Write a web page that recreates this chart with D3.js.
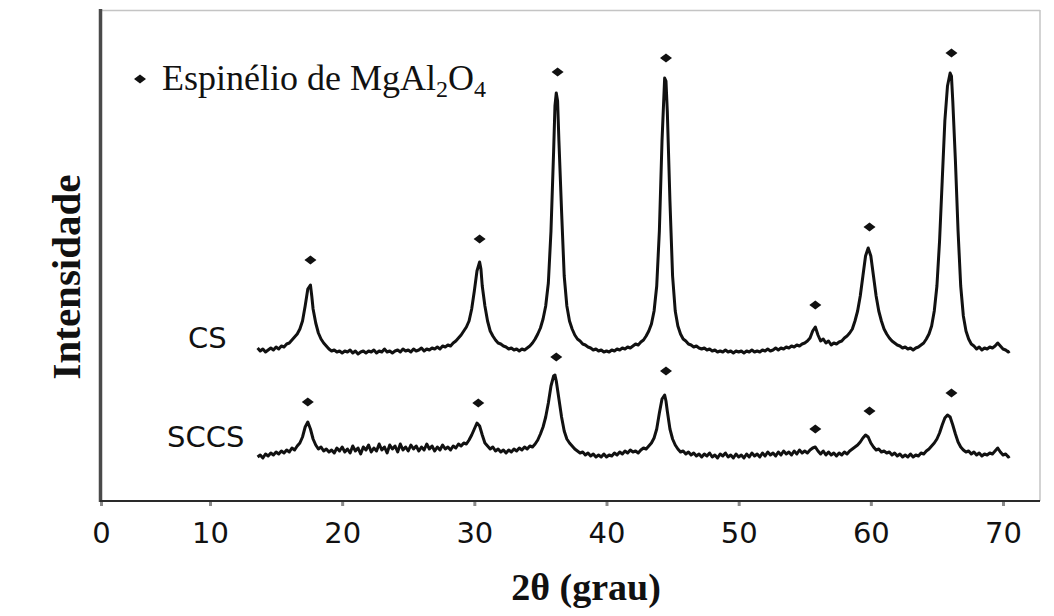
<!DOCTYPE html>
<html>
<head>
<meta charset="utf-8">
<script src="https://cdn.jsdelivr.net/npm/d3@7"></script>
<style>
  html, body { margin: 0; padding: 0; background: #fff; }
  svg { display: block; }
</style>
</head>
<body>
<div id="chart"></div>
<script>
// x ticks of the 2theta axis
var xTicks = [0, 10, 20, 30, 40, 50, 60, 70];

// series labels
var seriesNames = ["CS", "SCCS"];

// CS pattern, [2theta, intensity a.u.] as drawn (stacked above SCCS)
var csPattern = [
  [13.6,153],[13.8,150],[14.0,152],[14.2,149],[14.4,151],[14.6,153],[14.8,151],[15.0,154],[15.2,152],[15.4,155],
  [15.6,154],[15.8,157],[16.0,158],[16.2,161],[16.4,164],[16.6,167],[16.8,172],[17.0,180],[17.2,195],[17.4,212],
  [17.6,216],[17.7,205],[17.8,192],[18.0,178],[18.2,168],[18.4,162],[18.6,158],[18.8,155],[19.0,152],[19.2,150],
  [19.4,151],[19.6,149],[19.8,150],[20.0,148],[20.2,150],[20.4,149],[20.6,151],[20.8,148],[21.0,150],[21.2,147],
  [21.4,149],[21.6,150],[21.8,148],[22.0,150],[22.2,149],[22.4,151],[22.6,148],[22.8,150],[23.0,149],[23.2,152],
  [23.4,149],[23.6,150],[23.8,148],[24.0,150],[24.2,151],[24.4,149],[24.6,152],[24.8,150],[25.0,151],[25.2,149],
  [25.4,152],[25.6,150],[25.8,151],[26.0,153],[26.2,150],[26.4,152],[26.6,151],[26.8,153],[27.0,152],[27.2,154],
  [27.4,152],[27.6,155],[27.8,154],[28.0,156],[28.2,155],[28.4,158],[28.6,160],[28.8,163],[29.0,166],[29.2,170],
  [29.4,174],[29.6,180],[29.8,192],[30.0,210],[30.2,230],[30.4,239],[30.5,232],[30.6,215],[30.8,195],[31.0,180],
  [31.2,170],[31.4,165],[31.6,161],[31.8,158],[32.0,157],[32.2,155],[32.4,154],[32.6,152],[32.8,153],[33.0,151],
  [33.2,152],[33.4,150],[33.6,152],[33.8,151],[34.0,153],[34.2,155],[34.4,158],[34.6,162],[34.8,167],[35.0,173],
  [35.2,182],[35.4,195],[35.6,218],[35.8,270],[36.0,350],[36.1,395],[36.2,408],[36.3,400],[36.4,360],[36.6,290],
  [36.8,225],[37.0,195],[37.2,180],[37.4,172],[37.6,166],[37.8,162],[38.0,160],[38.2,157],[38.4,156],[38.6,154],
  [38.8,153],[39.0,151],[39.2,152],[39.4,150],[39.6,151],[39.8,149],[40.0,150],[40.2,149],[40.4,151],[40.6,150],
  [40.8,152],[41.0,151],[41.2,153],[41.4,152],[41.6,154],[41.8,153],[42.0,155],[42.2,157],[42.4,156],[42.6,159],
  [42.8,161],[43.0,165],[43.2,170],[43.4,177],[43.6,190],[43.8,215],[44.0,270],[44.2,360],[44.4,423],[44.5,420],
  [44.6,390],[44.8,300],[45.0,225],[45.2,190],[45.4,175],[45.6,167],[45.8,162],[46.0,160],[46.2,157],[46.4,156],
  [46.6,154],[46.8,155],[47.0,153],[47.2,152],[47.4,153],[47.6,151],[47.8,152],[48.0,150],[48.2,151],[48.4,149],
  [48.6,150],[48.8,149],[49.0,151],[49.2,149],[49.4,150],[49.6,148],[49.8,150],[50.0,149],[50.2,150],[50.4,148],
  [50.6,150],[50.8,149],[51.0,151],[51.2,149],[51.4,150],[51.6,149],[51.8,151],[52.0,150],[52.2,152],[52.4,150],
  [52.6,151],[52.8,153],[53.0,151],[53.2,153],[53.4,152],[53.6,154],[53.8,153],[54.0,155],[54.2,154],[54.4,156],
  [54.6,155],[54.8,157],[55.0,158],[55.2,160],[55.4,163],[55.6,170],[55.8,174],[56.0,166],[56.2,160],[56.4,162],
  [56.6,158],[56.8,160],[57.0,156],[57.2,158],[57.4,157],[57.6,159],[57.8,160],[58.0,163],[58.2,165],[58.4,168],
  [58.6,172],[58.8,180],[59.0,190],[59.2,205],[59.4,225],[59.6,245],[59.8,253],[60.0,245],[60.2,225],[60.4,205],
  [60.6,190],[60.8,180],[61.0,172],[61.2,167],[61.4,163],[61.6,160],[61.8,158],[62.0,156],[62.2,155],[62.4,153],
  [62.6,154],[62.8,152],[63.0,153],[63.2,151],[63.4,153],[63.6,154],[63.8,156],[64.0,158],[64.2,162],[64.4,167],
  [64.6,175],[64.8,190],[65.0,215],[65.2,260],[65.4,320],[65.6,380],[65.8,415],[66.0,428],[66.1,425],[66.2,400],
  [66.4,340],[66.6,270],[66.8,215],[67.0,185],[67.2,170],[67.4,162],[67.6,157],[67.8,155],[68.0,152],[68.2,154],
  [68.4,151],[68.6,153],[68.8,152],[69.0,154],[69.2,153],[69.4,155],[69.6,158],[69.8,155],[70.0,152],[70.2,151],
  [70.4,149],[70.5,150]
];

// SCCS pattern, [2theta, intensity a.u.]
var sccsPattern = [
  [13.6,44],[13.8,46],[14.0,43],[14.2,47],[14.4,45],[14.6,48],[14.8,46],[15.0,49],[15.2,47],[15.4,50],
  [15.6,48],[15.8,51],[16.0,49],[16.2,53],[16.4,51],[16.6,55],[16.8,58],[17.0,64],[17.2,74],[17.4,79],
  [17.6,72],[17.8,62],[18.0,56],[18.2,52],[18.4,54],[18.6,50],[18.8,52],[19.0,49],[19.2,51],[19.4,48],
  [19.6,53],[19.8,50],[20.0,54],[20.2,49],[20.4,52],[20.6,48],[20.8,55],[21.0,50],[21.2,53],[21.4,47],
  [21.6,54],[21.8,51],[22.0,56],[22.2,49],[22.4,53],[22.6,50],[22.8,57],[23.0,51],[23.2,54],[23.4,48],
  [23.6,56],[23.8,52],[24.0,55],[24.2,49],[24.4,57],[24.6,51],[24.8,54],[25.0,50],[25.2,56],[25.4,52],
  [25.6,55],[25.8,50],[26.0,54],[26.2,51],[26.4,57],[26.6,52],[26.8,55],[27.0,50],[27.2,54],[27.4,51],
  [27.6,56],[27.8,52],[28.0,54],[28.2,51],[28.4,55],[28.6,53],[28.8,57],[29.0,55],[29.2,58],[29.4,57],
  [29.6,61],[29.8,66],[30.0,72],[30.2,78],[30.4,75],[30.6,66],[30.8,58],[31.0,55],[31.2,52],[31.4,54],
  [31.6,50],[31.8,52],[32.0,49],[32.2,51],[32.4,48],[32.6,51],[32.8,49],[33.0,52],[33.2,50],[33.4,53],
  [33.6,51],[33.8,54],[34.0,52],[34.2,55],[34.4,54],[34.6,57],[34.8,61],[35.0,67],[35.2,74],[35.4,84],
  [35.6,98],[35.8,115],[36.0,125],[36.1,126],[36.2,120],[36.4,102],[36.6,84],[36.8,70],[37.0,62],[37.2,58],
  [37.4,55],[37.6,52],[37.8,50],[38.0,48],[38.2,49],[38.4,46],[38.6,48],[38.8,45],[39.0,47],[39.2,44],
  [39.4,46],[39.6,44],[39.8,47],[40.0,44],[40.2,46],[40.4,45],[40.6,48],[40.8,46],[41.0,49],[41.2,47],
  [41.4,50],[41.6,48],[41.8,51],[42.0,49],[42.2,50],[42.4,48],[42.6,51],[42.8,53],[43.0,52],[43.2,55],
  [43.4,58],[43.6,63],[43.8,72],[44.0,88],[44.2,102],[44.4,106],[44.5,100],[44.6,90],[44.8,72],[45.0,62],
  [45.2,56],[45.4,52],[45.6,49],[45.8,50],[46.0,47],[46.2,49],[46.4,46],[46.6,48],[46.8,45],[47.0,47],
  [47.2,44],[47.4,47],[47.6,45],[47.8,48],[48.0,44],[48.2,46],[48.4,43],[48.6,47],[48.8,45],[49.0,48],
  [49.2,44],[49.4,46],[49.6,43],[49.8,47],[50.0,44],[50.2,46],[50.4,43],[50.6,47],[50.8,44],[51.0,48],
  [51.2,45],[51.4,47],[51.6,44],[51.8,48],[52.0,45],[52.2,49],[52.4,46],[52.6,48],[52.8,45],[53.0,49],
  [53.2,46],[53.4,50],[53.6,47],[53.8,49],[54.0,46],[54.2,50],[54.4,47],[54.6,51],[54.8,48],[55.0,50],
  [55.2,48],[55.4,51],[55.6,53],[55.8,54],[56.0,50],[56.2,47],[56.4,50],[56.6,46],[56.8,49],[57.0,46],
  [57.2,48],[57.4,45],[57.6,48],[57.8,46],[58.0,49],[58.2,47],[58.4,50],[58.6,52],[58.8,54],[59.0,56],
  [59.2,59],[59.4,63],[59.6,66],[59.8,64],[60.0,58],[60.2,54],[60.4,51],[60.6,52],[60.8,49],[61.0,50],
  [61.2,48],[61.4,49],[61.6,46],[61.8,48],[62.0,45],[62.2,47],[62.4,44],[62.6,46],[62.8,44],[63.0,47],
  [63.2,44],[63.4,46],[63.6,45],[63.8,48],[64.0,47],[64.2,50],[64.4,52],[64.6,55],[64.8,58],[65.0,62],
  [65.2,68],[65.4,76],[65.6,83],[65.8,86],[66.0,84],[66.2,76],[66.4,67],[66.6,59],[66.8,54],[67.0,51],
  [67.2,49],[67.4,50],[67.6,47],[67.8,49],[68.0,46],[68.2,48],[68.4,45],[68.6,47],[68.8,46],[69.0,48],
  [69.2,47],[69.4,50],[69.6,53],[69.8,49],[70.0,46],[70.2,47],[70.4,44],[70.5,45]
];

// spinel peak markers, [2theta, height of the marker]
var csMarkers = [[17.6,241],[30.4,262],[36.3,429],[44.5,443],[55.8,196],[59.9,274],[66.1,448]];
var sccsMarkers = [[17.4,99],[30.3,98],[36.2,144],[44.5,130],[55.8,72],[59.9,90],[66.1,108]];

// series label anchors: [text start px, baseline in intensity units]
var labelPos = [[188, 153], [167, 54]];

//=====================================================
var W = 1054, H = 616;

var svg = d3.select("#chart").append("svg")
  .attr("width", W)
  .attr("height", H);

// the original axis squeezes 0..10, so the scale is piecewise
var x = d3.scaleLinear()
  .domain([0, 10, 70])
  .range([101, 210, 1003]);

var y = d3.scaleLinear()
  .domain([0, 490])
  .range([501, 11]);

// frame: light top/right, dark left/bottom
svg.append("line")
  .attr("x1", 101).attr("x2", 1040).attr("y1", 10.5).attr("y2", 10.5)
  .attr("stroke", "#c4c4c4").attr("stroke-width", 1.5);
svg.append("line")
  .attr("x1", 1040).attr("x2", 1040).attr("y1", 10).attr("y2", 501)
  .attr("stroke", "#c4c4c4").attr("stroke-width", 1.5);
svg.append("line")
  .attr("x1", 100.5).attr("x2", 100.5).attr("y1", 9).attr("y2", 502)
  .attr("stroke", "#4a4a4a").attr("stroke-width", 3.5);

var xAxis = svg.append("g")
  .attr("transform", "translate(0,501)")
  .call(d3.axisBottom(x).tickValues(xTicks).tickSize(5).tickFormat(d3.format("d")));

xAxis.select(".domain")
  .attr("d", "M100,0H1040")
  .attr("stroke", "#2a2a2a")
  .attr("stroke-width", 2.2);
xAxis.selectAll(".tick line")
  .attr("stroke", "#8a8a8a")
  .attr("stroke-width", 3)
  .attr("y1", 1);
xAxis.selectAll(".tick text")
  .attr("y", 42)
  .attr("dy", null)
  .attr("fill", "#111")
  .style("font-family", "'DejaVu Sans', Verdana, sans-serif")
  .style("font-size", "29px");

// patterns
var line = d3.line()
  .x(function(d) { return x(d[0]); })
  .y(function(d) { return y(d[1]); });

svg.selectAll(".pattern")
  .data([csPattern, sccsPattern])
  .enter()
  .append("path")
  .attr("class", "pattern")
  .attr("d", line)
  .attr("fill", "none")
  .attr("stroke", "#111")
  .attr("stroke-width", 3)
  .attr("stroke-linejoin", "round");

// diamond markers
var diamond = "M-6,0L0,-4.5L6,0L0,4.5Z";
svg.selectAll(".marker")
  .data(csMarkers.concat(sccsMarkers))
  .enter()
  .append("path")
  .attr("class", "marker")
  .attr("d", diamond)
  .attr("transform", function(d) { return "translate(" + x(d[0]) + "," + y(d[1]) + ")"; })
  .attr("fill", "#111");

// series labels
svg.selectAll(".sname")
  .data(seriesNames)
  .enter()
  .append("text")
  .attr("class", "sname")
  .attr("x", function(d, i) { return labelPos[i][0]; })
  .attr("y", function(d, i) { return y(labelPos[i][1]); })
  .attr("fill", "#111")
  .style("font-family", "'DejaVu Sans', Verdana, sans-serif")
  .style("font-size", "29px")
  .text(function(d) { return d; });

// legend
svg.append("path")
  .attr("d", diamond)
  .attr("transform", "translate(140,79)")
  .attr("fill", "#111");

var leg = svg.append("text")
  .attr("x", 162)
  .attr("y", 90)
  .attr("fill", "#111")
  .style("font-family", "'Liberation Serif', 'Times New Roman', serif")
  .style("font-size", "36px");
leg.append("tspan").text("Espinélio de MgAl");
leg.append("tspan").attr("dy", 7).style("font-size", "24px").text("2");
leg.append("tspan").attr("dy", -7).text("O");
leg.append("tspan").attr("dy", 7).style("font-size", "24px").text("4");

// axis titles
svg.append("text")
  .attr("x", 586)
  .attr("y", 600)
  .attr("text-anchor", "middle")
  .attr("fill", "#111")
  .style("font-family", "'Liberation Serif', 'Times New Roman', serif")
  .style("font-weight", "bold")
  .style("font-size", "38px")
  .text("2θ (grau)");

svg.append("text")
  .attr("transform", "translate(80,277) rotate(-90)")
  .attr("text-anchor", "middle")
  .attr("fill", "#111")
  .style("font-family", "'Liberation Serif', 'Times New Roman', serif")
  .style("font-weight", "bold")
  .style("font-size", "41px")
  .text("Intensidade");
</script>
</body>
</html>
